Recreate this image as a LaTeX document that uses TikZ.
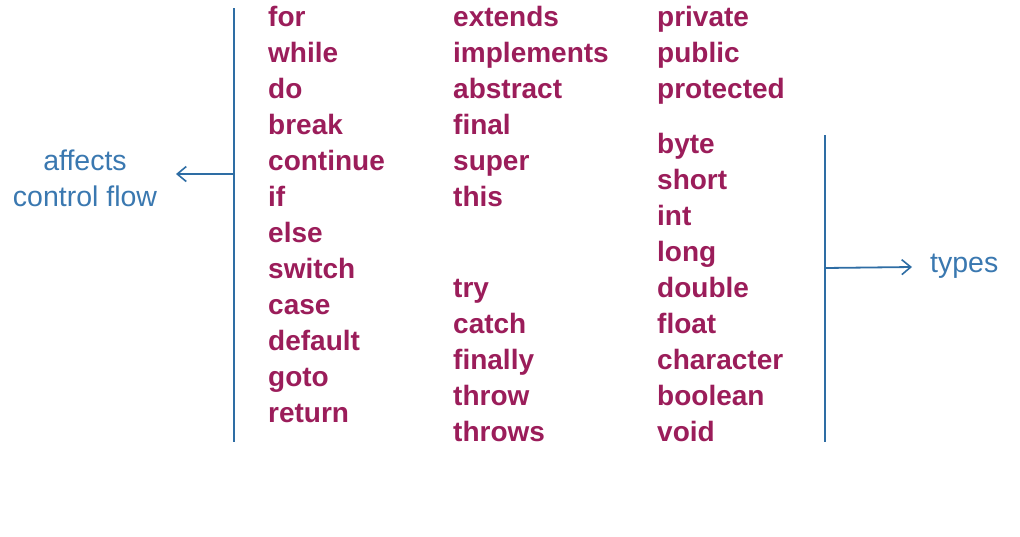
\documentclass[tikz,border=0pt]{standalone}
\usepackage{fontspec}
\setmainfont{Liberation Sans}
\usetikzlibrary{arrows.meta}
\definecolor{kw}{HTML}{9B1D5A}
\definecolor{ln}{HTML}{2E6DA4}
\definecolor{lbl}{HTML}{3A78B0}
\begin{document}
\begin{tikzpicture}[x=1pt,y=-1pt,
  kwd/.style={anchor=base west,inner sep=0pt,text=kw,font=\fontsize{28}{34}\selectfont\bfseries},
  lab/.style={inner sep=0pt,text=lbl,font=\fontsize{28.5}{36}\selectfont,align=center},
  bar/.style={draw=ln,line width=2pt},
  arr/.style={draw=ln,line width=1.8pt,-{Straight Barb[length=9pt,width=15pt,line width=1.6pt]}}]
\useasboundingbox (0,0) rectangle (1020,536);
% left column
\foreach \w [count=\i from 0] in {for,while,do,break,continue,if,else,switch,case,default,goto,return}
  \node[kwd] (a\i) at (268,26+36*\i) {\w};
% middle column
\foreach \w [count=\i from 0] in {extends,implements,abstract,final,super,this}
  \node[kwd] (b\i) at (453,26+36*\i) {\w};
\foreach \w [count=\i from 0] in {try,catch,finally,throw,throws}
  \node[kwd] (c\i) at (453,297+36*\i) {\w};
% right column
\foreach \w [count=\i from 0] in {private,public,protected}
  \node[kwd] (d\i) at (657,26+36*\i) {\w};
\foreach \w [count=\i from 0] in {byte,short,int,long,double,float,character,boolean,void}
  \node[kwd] (e\i) at (657,153+36*\i) {\w};
% brackets
\coordinate (lt) at (234,8);
\coordinate (lb) at (234,442);
\coordinate (lm) at (234,174);
\coordinate (le) at (176,174);
\coordinate (rt) at (825,135);
\coordinate (rb) at (825,442);
\coordinate (rm) at (825,268);
\coordinate (re) at (912,267);
\draw[bar] (lt) -- (lb);
\draw[bar] (rt) -- (rb);
\node[lab] (cf) at (85,178) {affects\\control flow};
\node[lab,anchor=west] (ty) at (930,266) {types};
\draw[arr] (lm) -- (le);
\draw[arr] (rm) -- (re);
\end{tikzpicture}
\end{document}
